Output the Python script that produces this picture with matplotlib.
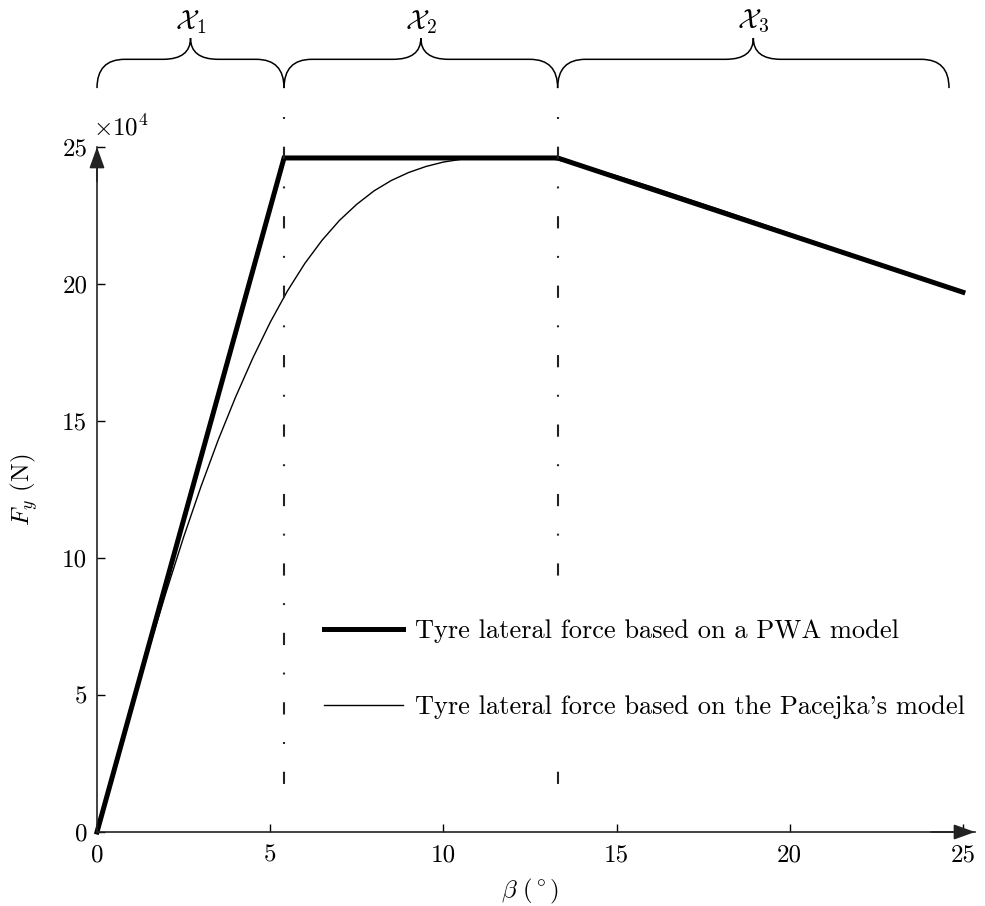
import matplotlib
matplotlib.use("Agg")
import matplotlib.pyplot as plt
from matplotlib.path import Path
from matplotlib.patches import PathPatch

plt.rcParams["font.family"] = "serif"
plt.rcParams["font.serif"] = ["cmr10"]
plt.rcParams["mathtext.fontset"] = "cm"
plt.rcParams["axes.formatter.use_mathtext"] = True
plt.rcParams["lines.scale_dashes"] = False

# PWA model (x 1e4 N)
beta_pwa = [0, 5.4, 13.3, 25]
fy_pwa = [0, 24.6, 24.6, 19.7]

# Pacejka model
beta_pac = [0, 0.5, 1, 1.5, 2, 2.5, 3, 3.5, 4, 4.5, 5, 5.5, 6, 6.5, 7, 7.5,
            8, 8.5, 9, 9.5, 10, 10.5, 11, 11.5, 12, 12.5, 13, 13.5, 14, 15,
            16, 17, 18, 19, 20, 21, 22, 23, 24, 25]
fy_pac = [0, 2.26, 4.50, 6.69, 8.77, 10.76, 12.60, 14.31, 15.87, 17.30,
          18.60, 19.75, 20.75, 21.60, 22.32, 22.91, 23.40, 23.78, 24.07,
          24.29, 24.45, 24.55, 24.61, 24.63, 24.64, 24.63, 24.60, 24.48,
          24.33, 23.95, 23.55, 23.13, 22.71, 22.28, 21.85, 21.42, 20.99,
          20.56, 20.13, 19.70]

region_bounds = [5.4, 13.3]
brace_spans = [(0, 5.4), (5.4, 13.3), (13.3, 24.6)]
region_labels = [r"$\mathcal{X}_1$", r"$\mathcal{X}_2$", r"$\mathcal{X}_3$"]

xticks = [0, 5, 10, 15, 20, 25]
yticks = [0, 5, 10, 15, 20, 25]

W, H = 985, 906
fig = plt.figure(figsize=(W / 100, H / 100), dpi=100)
ax = fig.add_axes([97 / W, 1 - 832 / H, 878 / W, 685 / H])

ax.plot(beta_pwa, fy_pwa, color="black", lw=3.6, solid_joinstyle="miter",
        label="Tyre lateral force based on a PWA model", clip_on=False)
ax.plot(beta_pac, fy_pac, color="black", lw=1.0,
        label="Tyre lateral force based on the Pacejka's model", clip_on=False)

for xb in region_bounds:
    ax.plot([xb, xb], [26.1, 0.75], color="#222222", lw=1.5,
            dashes=(1.4, 20.0, 8.8, 19.8), clip_on=False)

ax.set_xlim(0, 25.35)
ax.set_ylim(0, 25)
ax.set_xticks(xticks)
ax.set_xticklabels([str(v) for v in xticks])
ax.set_yticks(yticks)
ax.set_yticklabels([str(v) for v in yticks])
ax.tick_params(direction="in", length=6, width=1, labelsize=18, pad=7)
ax.tick_params(axis="x", pad=9)

for s in ("top", "right"):
    ax.spines[s].set_visible(False)
for s in ("left", "bottom"):
    ax.spines[s].set_linewidth(1.2)
    ax.spines[s].set_color("#222222")

arrow = dict(arrowstyle="-|>,head_length=1.0,head_width=0.36", color="#222222",
             lw=1.2, mutation_scale=13, shrinkA=0, shrinkB=0)
ax.annotate("", xy=(0, 1), xytext=(0, 0.95), xycoords="axes fraction",
            arrowprops=arrow)
ax.annotate("", xy=(1, 0), xytext=(0.95, 0), xycoords="axes fraction",
            arrowprops=arrow)

ax.set_xlabel(r"$\beta\ (^\circ)$", fontsize=18)
ax.set_ylabel(r"$F_y$ (N)", fontsize=18)
ax.xaxis.set_label_coords(0.493, -0.065)
ax.yaxis.set_label_coords(-0.065, 0.5)
fig.text(93 / W, 1 - 128 / H, r"$\times 10^{4}$", fontsize=18, va="center")

# curly braces over the regions
tr = ax.get_xaxis_transform()
yb, yf, yt = 1.086, 1.128, 1.159
r = 0.8
for (x0, x1), lab in zip(brace_spans, region_labels):
    xm = (x0 + x1) / 2
    verts = [(x0, yb), (x0, yf), (x0 + r, yf),
             (xm - r, yf), (xm, yf), (xm, yt),
             (xm, yf), (xm + r, yf),
             (x1 - r, yf), (x1, yf), (x1, yb)]
    codes = [Path.MOVETO, Path.CURVE3, Path.CURVE3,
             Path.LINETO, Path.CURVE3, Path.CURVE3,
             Path.CURVE3, Path.CURVE3,
             Path.LINETO, Path.CURVE3, Path.CURVE3]
    ax.add_patch(PathPatch(Path(verts, codes), transform=tr, fill=False,
                           lw=1.1, color="black", clip_on=False))
    ax.text(xm, 1.183, lab, transform=tr, ha="center", va="center",
            fontsize=20)

# legend box is white and hides the dash-dot line behind it
leg = ax.legend(loc="center left", bbox_to_anchor=(290 / W, 1 - 669 / H),
                bbox_transform=fig.transFigure, frameon=True, fontsize=19,
                handlelength=3.0, handletextpad=0.42, labelspacing=1.99,
                borderpad=1.3, borderaxespad=0, fancybox=False,
                facecolor="white", edgecolor="none", framealpha=1)

fig.savefig("out.png", dpi=100)
